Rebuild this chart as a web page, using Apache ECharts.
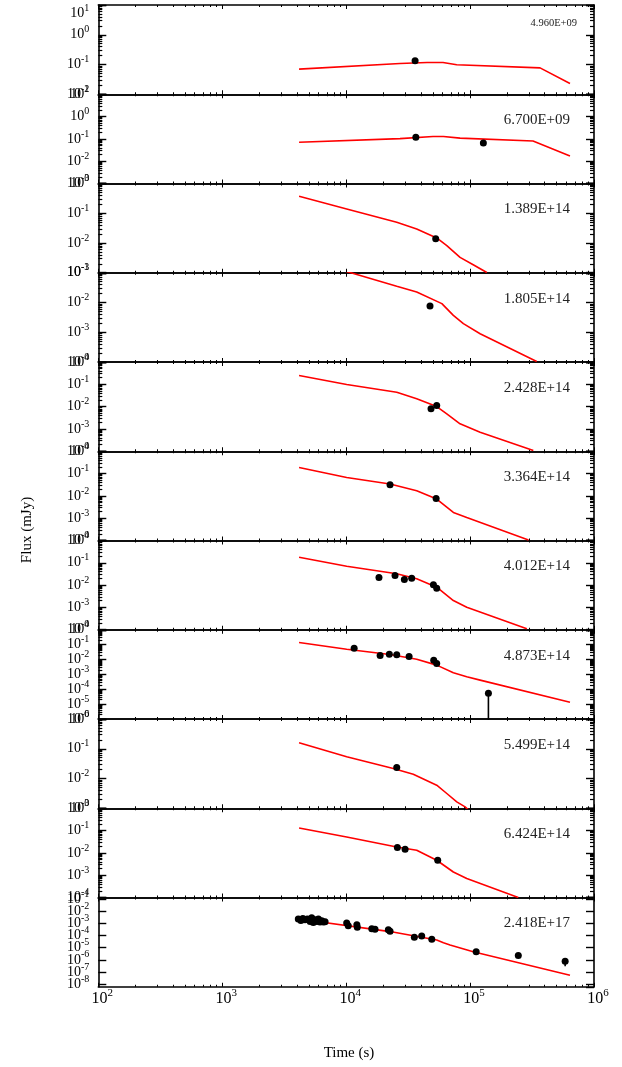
<!DOCTYPE html>
<html>
<head>
<meta charset="utf-8">
<script src="https://cdn.jsdelivr.net/npm/echarts@6/dist/echarts.min.js"></script>
<style>
html,body{margin:0;padding:0;background:#fff;}
#chart{width:622px;height:1067px;}
</style>
</head>
<body>
<div id="chart"></div>
<script>
// ---------- data (time in s, flux in mJy) ----------
const freqLabels = ['4.960E+09','6.700E+09','1.389E+14','1.805E+14','2.428E+14','3.364E+14','4.012E+14','4.873E+14','5.499E+14','6.424E+14','2.418E+17'];
const yMins = [1e-2, 1e-3, 1e-3, 1e-4, 1e-4, 1e-4, 1e-4, 1e-6, 1e-3, 1e-4, 6e-9];
const yMaxs = [1e1, 1e1, 1e0, 1e-1, 1e0, 1e0, 1e0, 1e0, 1e0, 1e0, 0.14];
const xMin = 100, xMax = 1e6;

const model1 = [[4170,0.0697],[27200,0.108],[45000,0.117],[60500,0.117],[78000,0.098],[367000,0.077],[640000,0.023]];
const model2 = [[4170,0.0705],[27200,0.103],[50200,0.127],[61000,0.127],[83000,0.108],[322000,0.0805],[640000,0.0171]];
const model3 = [[4170,0.373],[10100,0.140],[25600,0.0497],[37100,0.0297],[53800,0.0148],[64900,0.00813],[83000,0.00328],[106000,0.00186],[136500,0.00102]];
const model4 = [[4170,0.302],[11100,0.0984],[25600,0.0351],[37100,0.0225],[59200,0.00916],[73300,0.00370],[88300,0.00194],[120500,0.000893],[345000,0.000104]];
const model5 = [[4170,0.248],[10100,0.0980],[25600,0.0443],[37100,0.0224],[53800,0.0101],[64900,0.00475],[83000,0.00169],[120500,0.000711],[324000,0.000107]];
const model6 = [[4170,0.188],[10100,0.0668],[22600,0.0338],[37100,0.0169],[53800,0.00719],[73300,0.00180],[94000,0.00107],[296000,0.000104]];
const model7 = [[4170,0.178],[10100,0.0705],[25600,0.0321],[37100,0.0192],[53800,0.00805],[73300,0.00204],[94000,0.00102],[287000,0.000110]];
const model8 = [[4170,0.139],[10100,0.0493],[22600,0.0218],[37100,0.0105],[53800,0.00418],[73300,0.00127],[94000,0.000685],[120500,0.000412],[640000,1.32e-5]];
const model9 = [[4170,0.159],[10100,0.0536],[24000,0.0218],[34800,0.0140],[53800,0.00597],[64900,0.00313],[78100,0.00163],[91200,0.00111],[105000,0.00065]];
const model10 = [[4170,0.131],[10100,0.0516],[25600,0.0184],[37100,0.0131],[53800,0.00466],[73300,0.00139],[94000,0.000705],[245000,9.9e-5]];
const model11 = [[4170,2.33e-3],[22600,2.15e-4],[53800,4.39e-5],[61000,2.61e-5],[68900,1.68e-5],[106000,4.65e-6],[640000,5.31e-8]];

const obs1 = [[36000,0.133]];
const obs2 = [[36500,0.118],[128000,0.0655]];
const obs3 = [[52800,0.0140]];
const obs4 = [[47500,0.0076]];
const obs5 = [[48400,0.00796],[53800,0.0112]];
const obs6 = [[22600,0.0315],[53200,0.00764]];
const obs7 = [[18400,0.0219],[24800,0.0269],[29500,0.0178],[33800,0.0204],[50600,0.0103],[53800,0.00726]];
const obs8 = [[11600,0.0575],[18800,0.0187],[22300,0.0228],[25600,0.0205],[32200,0.0160],[50900,0.00904],[53800,0.00543],[140600,5.3e-5]];
const obs9 = [[25600,0.0236]];
const obs10 = [[25900,0.0173],[29900,0.0145],[54800,0.00466]];
const obs11 = [[4110,2.33e-3],[4310,1.78e-3],[4470,2.61e-3],[4660,2.03e-3],[4860,2.33e-3],[5120,1.47e-3],[5270,2.99e-3],[5430,1.21e-3],[5610,2.03e-3],[5790,1.47e-3],[5970,2.33e-3],[6150,1.31e-3],[6350,1.68e-3],[6550,1.31e-3],[6760,1.39e-3],[10100,1.08e-3],[10400,6.43e-4],[12200,7.80e-4],[12300,5.01e-4],[16100,3.61e-4],[17100,3.41e-4],[21900,2.99e-4],[22600,2.33e-4],[35500,7.36e-5],[40700,9.44e-5],[49100,5.01e-5],[112000,4.65e-6],[245000,2.33e-6],[585000,7.80e-7]];

// error bars: [panel index, time, upper, lower]
const errBars = [[7,140600,8.8e-5,1e-7],[10,585000,7.8e-7,2.99e-7]];

const models = [model1,model2,model3,model4,model5,model6,model7,model8,model9,model10,model11];
const observations = [obs1,obs2,obs3,obs4,obs5,obs6,obs7,obs8,obs9,obs10,obs11];

// ---------- layout ----------
const N = 11, TOP0 = 5, PH = 89.25, LEFT = 98.3, PW = 495.7;
const FONT = '"Liberation Serif", "Times New Roman", serif';
// a hair of padding so that the decade ticks at the panel edges are ordinary (not min/max) ticks
const EDGE = 1.0005;

function makeSupLabel(panel){
  return function(v){
    const e = Math.log10(v), r = Math.round(e);
    if (Math.abs(e - r) > 0.01) return '';
    if (panel === 0 && r === 1) return '{bt|10}{st|' + r + '}';
    return '{b|10}{s|' + r + '}';
  };
}

const grids = [], xAxes = [], yAxes = [], series = [], graphics = [];
for (let i = 0; i < N; i++) {
  const top = TOP0 + PH * i;
  grids.push({left: LEFT, top: top, width: PW, height: PH, containLabel: false, outerBoundsMode: 'none'});
  const xCommon = {
    type: 'log', logBase: 10, gridIndex: i, min: xMin, max: xMax,
    axisLine: {show: true, lineStyle: {color: '#000', width: 1.6}},
    axisTick: {show: true, inside: true, length: 4, lineStyle: {color: '#000', width: 1}},
    minorTick: {show: true, splitNumber: 9, length: 2, lineStyle: {color: '#000', width: 1}},
    splitLine: {show: false}, minorSplitLine: {show: false}
  };
  xAxes.push(Object.assign({}, xCommon, {
    position: 'bottom',
    axisLabel: {
      show: i === N - 1, margin: 4, formatter: makeSupLabel(-1), hideOverlap: false,
      alignMinLabel: 'center', alignMaxLabel: 'center',
      showMinLabel: true, showMaxLabel: true,
      rich: {
        b: {fontFamily: FONT, fontSize: 16, color: '#000', padding: [0,0,0,8]},
        s: {fontFamily: FONT, fontSize: 11, color: '#000', lineHeight: 11, padding: [0,0,11,0]}
      }
    }
  }));
  xAxes.push(Object.assign({}, xCommon, {position: 'top', axisLabel: {show: false}}));
  const yCommon = {
    type: 'log', logBase: 10, gridIndex: i, min: yMins[i] / EDGE, max: yMaxs[i] * EDGE, splitNumber: 10,
    axisLine: {show: true, lineStyle: {color: '#000', width: 1.6}},
    axisTick: {show: true, inside: true, length: 8, lineStyle: {color: '#000', width: 1.4}},
    minorTick: {show: i < N - 1, splitNumber: 9, length: 4, lineStyle: {color: '#000', width: 1.2}},
    splitLine: {show: false}, minorSplitLine: {show: false}
  };
  yAxes.push(Object.assign({}, yCommon, {
    position: 'left',
    axisLabel: {
      show: true, margin: 9, formatter: makeSupLabel(i), hideOverlap: false, interval: 0,
      showMinLabel: false, showMaxLabel: false,
      rich: {
        b: {fontFamily: FONT, fontSize: 14, color: '#000', lineHeight: 14},
        s: {fontFamily: FONT, fontSize: 10, color: '#000', lineHeight: 10, padding: [0,0,10,0]},
        bt: {fontFamily: FONT, fontSize: 14, color: '#000', lineHeight: 14, padding: [16,0,0,0]},
        st: {fontFamily: FONT, fontSize: 10, color: '#000', lineHeight: 10, padding: [6,0,0,0]}
      }
    }
  }));
  yAxes.push(Object.assign({}, yCommon, {position: 'right', axisLabel: {show: false}}));

  series.push({
    type: 'line', xAxisIndex: 2*i, yAxisIndex: 2*i, data: models[i],
    showSymbol: false, symbol: 'none', smooth: false,
    lineStyle: {color: '#ff0000', width: 1.6}, clip: true, z: 2
  });
  series.push({
    type: 'scatter', xAxisIndex: 2*i, yAxisIndex: 2*i, data: observations[i],
    symbol: 'circle', symbolSize: 7, itemStyle: {color: '#000', opacity: 1}, clip: true, z: 3
  });

  graphics.push({
    type: 'text', x: i === 0 ? 577 : 570, y: top + (i === 0 ? 18 : 26), z: 10,
    style: {text: freqLabels[i], fill: '#222', font: (i === 0 ? '10.5px ' : '15px ') + FONT, align: 'right', verticalAlign: 'middle'}
  });
}
errBars.forEach(function(e){
  series.push({
    type: 'line', xAxisIndex: 2*e[0], yAxisIndex: 2*e[0],
    data: [[e[1], e[2]], [e[1], e[3]]], showSymbol: false, symbol: 'none',
    lineStyle: {color: '#000', width: 1.6}, clip: true, z: 3
  });
});

graphics.push({type: 'text', x: 349, y: 1053, style: {text: 'Time (s)', fill: '#000', font: '15px ' + FONT, align: 'center', verticalAlign: 'middle'}});
graphics.push({type: 'text', x: 27, y: 530, rotation: Math.PI / 2, style: {text: 'Flux (mJy)', fill: '#000', font: '15px ' + FONT, align: 'center', verticalAlign: 'middle'}});

const chart = echarts.init(document.getElementById('chart'), null, {renderer: 'canvas'});
chart.setOption({
  animation: false,
  backgroundColor: '#fff',
  grid: grids, xAxis: xAxes, yAxis: yAxes, series: series, graphic: graphics
});
</script>
</body>
</html>
